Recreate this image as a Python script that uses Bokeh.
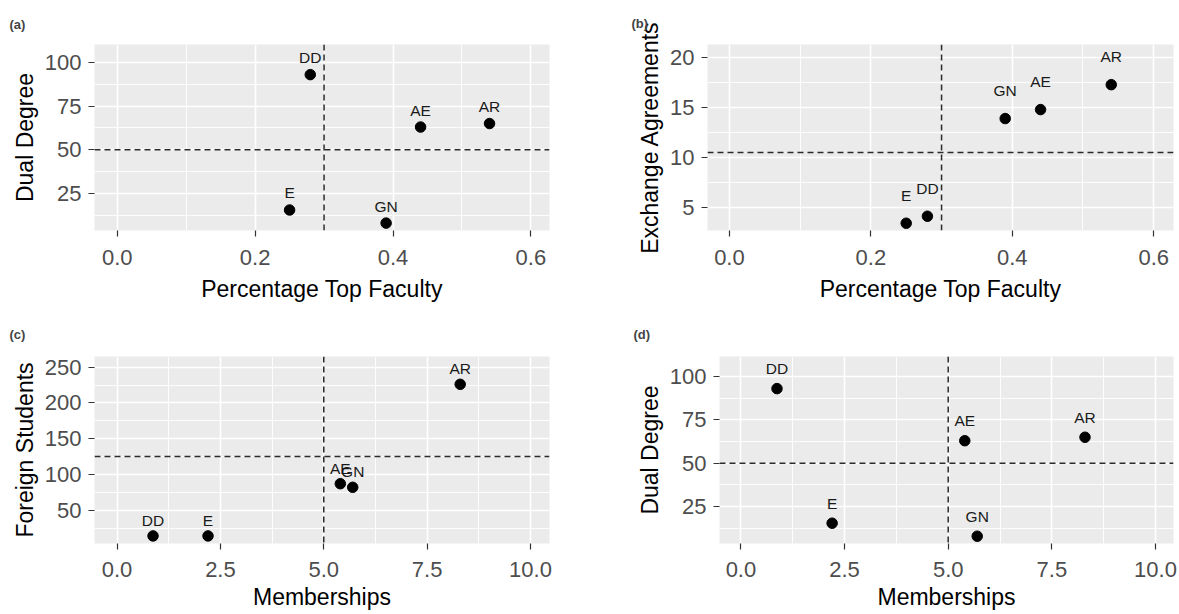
from bokeh.plotting import figure
from bokeh.layouts import column, row
from bokeh.models import (ColumnDataSource, FixedTicker, LabelSet, Span, Range1d,
                          PrintfTickFormatter)
from bokeh.core.properties import value
from bokeh.embed import file_html
from bokeh.resources import INLINE

# ---- data ----
univ = ["E", "DD", "GN", "AE", "AR"]
top_faculty = [0.25, 0.28, 0.39, 0.44, 0.54]
dual_degree = [15.5, 93, 8, 63, 65]
exchange = [3.4, 4.1, 13.9, 14.8, 17.3]
foreign = [14, 14, 82, 87, 226]
memberships = [2.2, 0.87, 5.7, 5.4, 8.3]

ref_top_faculty = 0.3
ref_memberships = 5.0
ref_dual = 50
ref_exchange = 10.5
ref_foreign = 125

tf_ticks = [0.0, 0.2, 0.4, 0.6]
tf_minor = [0.1, 0.3, 0.5]
mem_ticks = [0.0, 2.5, 5.0, 7.5, 10.0]
mem_minor = [1.25, 3.75, 6.25, 8.75]
dd_ticks = [25, 50, 75, 100]
dd_minor = [12.5, 37.5, 62.5, 87.5]
ex_ticks = [5, 10, 15, 20]
ex_minor = [7.5, 12.5, 17.5]
fs_ticks = [50, 100, 150, 200, 250]
fs_minor = [25, 75, 125, 175, 225]

FONT = "Liberation Sans"


def panel(x, y, xlab, ylab, xr, yr, xt, xm, yt, ym, xref, yref, tag,
          width, height, bl, br, bt, bb, lab_off, tag_standoff, tag_offset,
          s1, s2):
    p = figure(width=width, height=height, x_range=Range1d(*xr), y_range=Range1d(*yr),
               output_backend="svg", toolbar_location=None,
               min_border_left=bl, min_border_right=br, min_border_top=bt,
               min_border_bottom=bb, background_fill_color="#EBEBEB",
               border_fill_color="white", outline_line_color=None)
    xtick = FixedTicker(ticks=xt, minor_ticks=xm)
    ytick = FixedTicker(ticks=yt, minor_ticks=ym)
    p.xaxis.ticker = xtick
    p.yaxis.ticker = ytick
    p.xgrid.ticker = xtick
    p.ygrid.ticker = ytick
    for g in (p.xgrid, p.ygrid):
        g.grid_line_color = "white"
        g.grid_line_width = 1.6
        g.minor_grid_line_color = "white"
        g.minor_grid_line_width = 0.9
    p.xaxis.formatter = PrintfTickFormatter(format="%.1f")
    p.yaxis.formatter = PrintfTickFormatter(format="%d")
    for ax in (p.xaxis, p.yaxis):
        ax.axis_line_color = None
        ax.minor_tick_line_color = None
        ax.major_tick_in = 0
        ax.major_tick_out = 6
        ax.major_tick_line_color = "#333333"
        ax.major_tick_line_width = 1.2
        ax.major_label_text_font = FONT
        ax.major_label_text_font_size = "22px"
        ax.major_label_text_color = "#4D4D4D"
        ax.axis_label_text_font = FONT
        ax.axis_label_text_font_size = "23px"
        ax.axis_label_text_font_style = "normal"
        ax.axis_label_text_color = "black"
    p.xaxis.axis_label = xlab
    p.yaxis.axis_label = ylab
    p.xaxis.major_label_standoff = s1
    p.xaxis.axis_label_standoff = s2
    p.yaxis.major_label_standoff = 7
    p.yaxis.axis_label_standoff = 4

    src = ColumnDataSource(dict(x=x, y=y, t=univ))
    p.scatter("x", "y", source=src, size=10.5, color="black")
    p.add_layout(LabelSet(x="x", y="y", text="t", source=src, y_offset=lab_off,
                          text_align="center", text_baseline="middle",
                          text_font=value(FONT), text_font_size="15.5px",
                          text_color="#1A1A1A"))
    p.add_layout(Span(location=xref, dimension="height", line_color="#2B2B2B",
                      line_width=1.5, line_dash="6 4"))
    p.add_layout(Span(location=yref, dimension="width", line_color="#2B2B2B",
                      line_width=1.5, line_dash="6 4"))

    p.title.text = tag
    p.title.text_font = FONT
    p.title.text_font_size = "13px"
    p.title.text_font_style = "bold"
    p.title.align = "left"
    p.title.standoff = tag_standoff
    p.title.offset = tag_offset
    return p


pa = panel(top_faculty, dual_degree, "Percentage Top Faculty", "Dual Degree",
           (-0.033, 0.627), (3.76, 110.25), tf_ticks, tf_minor, dd_ticks, dd_minor,
           ref_top_faculty, ref_dual, "(a)", 590, 307, 94, 41, 43, 77, 17, 26, -85, 13, 8)
pb = panel(top_faculty, exchange, "Percentage Top Faculty", "Exchange Agreements",
           (-0.031, 0.628), (2.67, 21.33), tf_ticks, tf_minor, ex_ticks, ex_minor,
           ref_top_faculty, ref_exchange, "(b)", 589, 307, 117, 6, 43, 77, 28, 27, -76, 13, 8)
pc = panel(memberships, foreign, "Memberships", "Foreign Students",
           (-0.546, 10.46), (3.4, 264.9), mem_ticks, mem_minor, fs_ticks, fs_minor,
           ref_memberships, ref_foreign, "(c)", 590, 307, 94, 41, 49, 71, 15.5, 30, -85, 12, 4)
pd = panel(memberships, dual_degree, "Memberships", "Dual Degree",
           (-0.517, 10.435), (3.8, 111.5), mem_ticks, mem_minor, dd_ticks, dd_minor,
           ref_memberships, ref_dual, "(d)", 589, 307, 129, 6, 49, 71, 20, 30, -86, 12, 4)

layout = column(row(pa, pb), row(pc, pd))
open("out.html", "w").write(file_html(layout, INLINE))
